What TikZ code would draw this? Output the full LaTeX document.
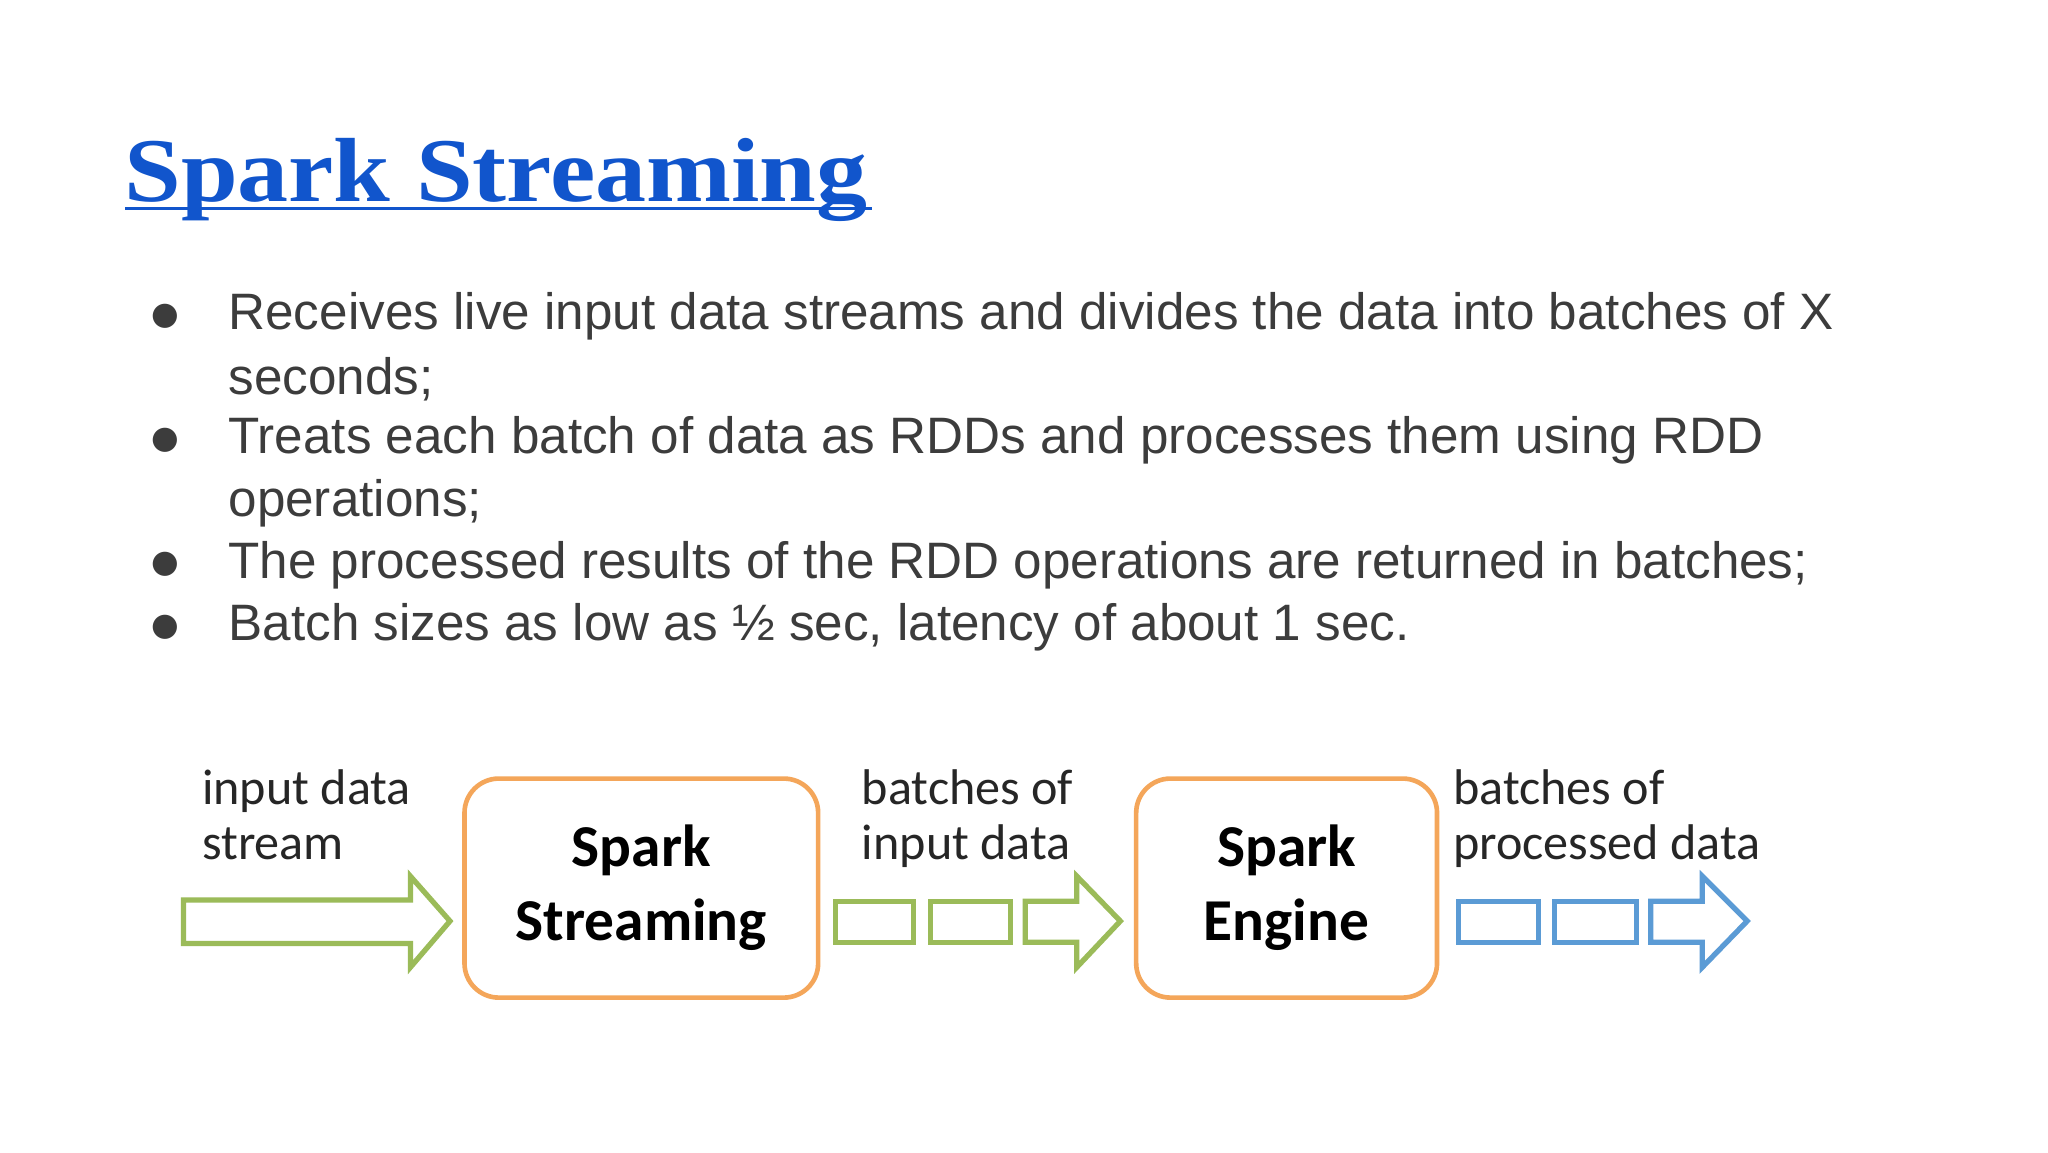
\documentclass[tikz,border=0pt]{standalone}
\usepackage{fontspec}
\setmainfont{Liberation Sans}
\newfontfamily\titlefont[FakeStretch=1.12]{Liberation Serif}
\newfontfamily\calfont{Carlito}
\newfontfamily\symfont{DejaVu Sans}
\definecolor{tblue}{HTML}{1155CC}
\definecolor{txt}{HTML}{3C3C3C}
\definecolor{org}{HTML}{F4A65A}
\definecolor{grn}{HTML}{9BBB59}
\definecolor{blu}{HTML}{5B9BD5}
\tikzset{
 bul/.style={anchor=west,text=txt,font=\fontsize{38.8}{47}\selectfont,inner sep=0},
 lab/.style={anchor=north west,align=left,font=\calfont\fontsize{38}{42}\selectfont,inner sep=0,text=black!85},
 proc/.style={draw=org,line width=3.5pt,rounded corners=26pt,minimum width=268pt,minimum height=166pt,align=center,font=\calfont\bfseries\fontsize{45}{56}\selectfont},
 gb/.style={draw=grn,line width=4pt},
 bb/.style={draw=blu,line width=4pt}
}
\begin{document}
\begin{tikzpicture}[x=1pt,y=-1pt]
\useasboundingbox[fill=white] (0,0) rectangle (1552,873);
\node[anchor=base west,inner sep=0,text=tblue,font=\titlefont\bfseries\fontsize{69}{70}\selectfont] (title) at (94,153) {Spark Streaming};
\draw[tblue,line width=3pt] (95,158) -- (661,158);
\foreach \y/\t in {240/{Receives live input data streams and divides the data into batches of X},287/{seconds;},334/{Treats each batch of data as RDDs and processes them using RDD},381/{operations;},428/{The processed results of the RDD operations are returned in batches;},475/{Batch sizes as low as ½ sec, latency of about 1 sec.}}
  \node[bul] at (173,\y) {\t};
\foreach \y in {240,334,428,475}
  \node[text=txt,font=\symfont\fontsize{24}{24}\selectfont,inner sep=0] at (125,\y) {●};
\node[proc] (ss) at (486,673) {Spark\\Streaming};
\node[proc,minimum width=228pt] (se) at (975,673) {Spark\\Engine};
\node[lab] (l1) at (153,583) {input data\\stream};
\node[lab] (l2) at (653,583) {batches of\\input data};
\node[lab] (l3) at (1101,583) {batches of\\processed data};
\draw[gb,line join=miter] (139,682) -- (311,682) -- (311,664) -- (341,698) -- (311,733) -- (311,715) -- (139,715) -- cycle;
\draw[gb] (633,683) rectangle (692,714);
\draw[gb] (705,683) rectangle (766,714);
\draw[gb,line join=miter] (777,683) -- (816,683) -- (816,664) -- (849,698) -- (816,733) -- (816,714) -- (777,714) -- cycle;
\draw[bb] (1105,683) rectangle (1166,714);
\draw[bb] (1178,683) rectangle (1240,714);
\draw[bb,line join=miter] (1251,683) -- (1290,683) -- (1290,664) -- (1324,698) -- (1290,733) -- (1290,714) -- (1251,714) -- cycle;
\end{tikzpicture}
\end{document}
